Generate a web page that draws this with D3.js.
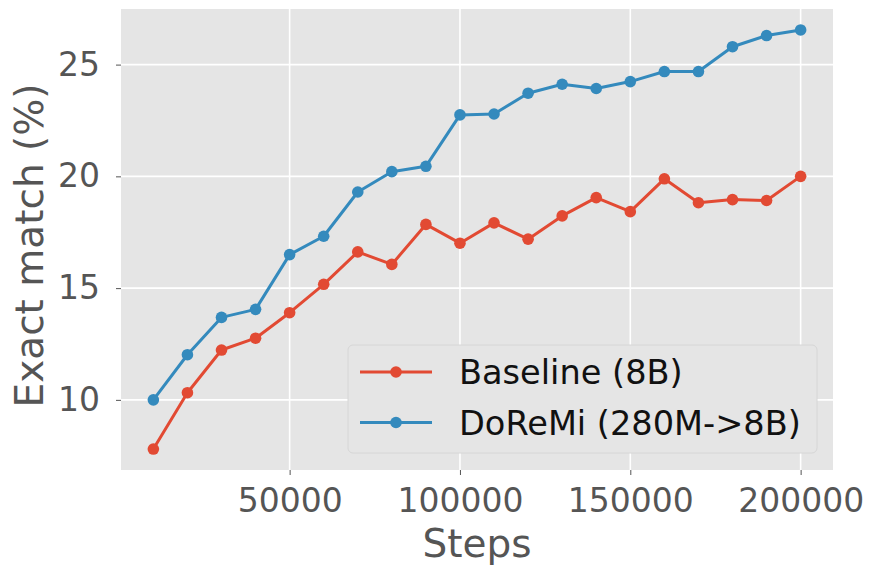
<!DOCTYPE html>
<head>
  <meta charset="utf-8">
  <title>Exact match vs steps</title>
  <style>
    body {
      margin: 0;
      padding: 0;
      background-color: #fff;
      font-family: 'DejaVu Sans', sans-serif;
    }
    .tick text {
      fill: #555;
      font-size: 33px;
      font-family: 'DejaVu Sans', sans-serif;
    }
    .tick line {
      stroke: #555;
    }
    .domain {
      display: none;
    }
    .grid line {
      stroke: #fff;
      stroke-width: 1.6;
    }
  </style>
</head>
<body>
  <div id="vis"></div>

  <script src="https://cdn.jsdelivr.net/npm/d3@7"></script>
  <script>
    var steps = [10000, 20000, 30000, 40000, 50000, 60000, 70000, 80000, 90000, 100000,
                 110000, 120000, 130000, 140000, 150000, 160000, 170000, 180000, 190000, 200000];
    var baseline = [7.8, 10.32, 12.23, 12.76, 13.9, 15.17, 16.62, 16.06, 17.85, 17.01,
                    17.92, 17.19, 18.23, 19.05, 18.42, 19.89, 18.82, 18.96, 18.92, 20.0];
    var doremi = [10.0, 12.02, 13.69, 14.05, 16.5, 17.32, 19.3, 20.21, 20.45, 22.75,
                  22.79, 23.72, 24.12, 23.93, 24.24, 24.69, 24.69, 25.8, 26.3, 26.55];
    var xTicks = [50000, 100000, 150000, 200000];
    var yTicks = [10, 15, 20, 25];
    var series = [
      {name: 'Baseline (8B)', values: baseline, color: '#E24A33'},
      {name: 'DoReMi (280M->8B)', values: doremi, color: '#348ABD'}
    ];

    var width = 871,
        height = 568,
        margin = {top: 9, right: 38, bottom: 98, left: 121},
        plotW = width - margin.left - margin.right,
        plotH = height - margin.top - margin.bottom;

    var svg = d3.select('#vis').append('svg')
      .attr('width', width)
      .attr('height', height);

    // matplotlib style 5% padding on both axes
    var allY = baseline.concat(doremi);
    var xMin = d3.min(steps), xMax = d3.max(steps), xPad = (xMax - xMin) * 0.05;
    var yMin = d3.min(allY), yMax = d3.max(allY), yPad = (yMax - yMin) * 0.05;

    var x = d3.scaleLinear()
      .domain([xMin - xPad, xMax + xPad])
      .range([0, plotW]);
    var y = d3.scaleLinear()
      .domain([yMin - yPad, yMax + yPad])
      .range([plotH, 0]);

    var g = svg.append('g')
      .attr('transform', 'translate(' + margin.left + ',' + margin.top + ')');

    g.append('rect')
      .attr('width', plotW)
      .attr('height', plotH)
      .attr('fill', '#E5E5E5');

    // grid
    g.append('g').attr('class', 'grid')
      .selectAll('line').data(xTicks).enter().append('line')
        .attr('x1', function(d) { return x(d); })
        .attr('x2', function(d) { return x(d); })
        .attr('y1', 0).attr('y2', plotH);
    g.append('g').attr('class', 'grid')
      .selectAll('line').data(yTicks).enter().append('line')
        .attr('y1', function(d) { return y(d); })
        .attr('y2', function(d) { return y(d); })
        .attr('x1', 0).attr('x2', plotW);

    // axes
    var xAxis = g.append('g')
      .attr('transform', 'translate(0,' + plotH + ')')
      .call(d3.axisBottom(x).tickValues(xTicks).tickFormat(d3.format('d')).tickSize(5).tickPadding(13));
    xAxis.selectAll('.tick text').attr('dy', '0.74em');

    g.append('g')
      .call(d3.axisLeft(y).tickValues(yTicks).tickFormat(d3.format('d')).tickSize(5).tickPadding(16));

    // lines and markers
    var line = d3.line()
      .x(function(d, i) { return x(steps[i]); })
      .y(function(d) { return y(d); });

    series.forEach(function(s) {
      g.append('path')
        .datum(s.values)
        .attr('d', line)
        .attr('fill', 'none')
        .attr('stroke', s.color)
        .attr('stroke-width', 3)
        .attr('stroke-linejoin', 'round');
      g.append('g').selectAll('circle')
        .data(s.values)
        .enter().append('circle')
          .attr('cx', function(d, i) { return x(steps[i]); })
          .attr('cy', function(d) { return y(d); })
          .attr('r', 5.8)
          .attr('fill', s.color);
    });

    // axis labels
    svg.append('text')
      .attr('x', margin.left + plotW / 2)
      .attr('y', 557)
      .attr('text-anchor', 'middle')
      .attr('fill', '#555')
      .style('font-size', '39px')
      .text('Steps');

    svg.append('text')
      .attr('transform', 'translate(43,' + (margin.top + plotH / 2 + 6) + ') rotate(-90)')
      .attr('text-anchor', 'middle')
      .attr('fill', '#555')
      .style('font-size', '39px')
      .text('Exact match (%)');

    // legend
    var legend = svg.append('g')
      .attr('transform', 'translate(348,345)');
    legend.append('rect')
      .attr('width', 469)
      .attr('height', 108)
      .attr('rx', 5)
      .attr('fill', '#E5E5E5')
      .attr('stroke', '#d6d6d6')
      .attr('stroke-width', 1);

    var item = legend.selectAll('.item')
      .data(series)
      .enter().append('g')
        .attr('class', 'item')
        .attr('transform', function(d, i) { return 'translate(0,' + (27 + i * 50.5) + ')'; });
    item.append('line')
      .attr('x1', 12).attr('x2', 84)
      .attr('stroke', function(d) { return d.color; })
      .attr('stroke-width', 3);
    item.append('circle')
      .attr('cx', 48)
      .attr('r', 5.8)
      .attr('fill', function(d) { return d.color; });
    item.append('text')
      .attr('x', 111)
      .attr('dy', '0.36em')
      .attr('fill', '#111')
      .style('font-size', '33.6px')
      .text(function(d) { return d.name; });
  </script>
</body>
